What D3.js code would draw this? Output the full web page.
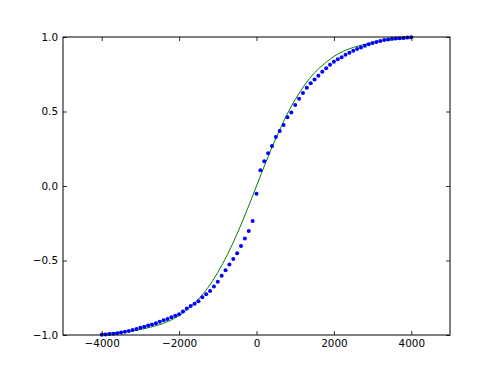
<!DOCTYPE html>
<html>
<head>
<meta charset="utf-8">
<script src="https://d3js.org/d3.v7.min.js"></script>
<style>
  body { margin: 0; background: #fff; }
  text { font-family: "DejaVu Sans", sans-serif; }
</style>
</head>
<body>
<script>
// sampled points (blue dots)
var dotX = [-4000, -3900, -3800, -3700, -3600, -3500, -3400, -3300, -3200, -3100,
            -3000, -2900, -2800, -2700, -2600, -2500, -2400, -2300, -2200, -2100,
            -2000, -1900, -1800, -1700, -1600, -1500, -1400, -1300, -1200, -1100,
            -1000, -900, -800, -700, -600, -500, -400, -300, -200, -100,
            0, 100, 200, 300, 400, 500, 600, 700, 800, 900,
            1000, 1100, 1200, 1300, 1400, 1500, 1600, 1700, 1800, 1900,
            2000, 2100, 2200, 2300, 2400, 2500, 2600, 2700, 2800, 2900,
            3000, 3100, 3200, 3300, 3400, 3500, 3600, 3700, 3800, 3900, 4000];
var dotY = [-0.999, -0.996, -0.994, -0.991, -0.988, -0.983, -0.978, -0.973, -0.966, -0.959,
            -0.951, -0.944, -0.937, -0.929, -0.921, -0.911, -0.901, -0.892, -0.881, -0.871,
            -0.860, -0.842, -0.822, -0.806, -0.790, -0.774, -0.747, -0.727, -0.705, -0.675,
            -0.642, -0.602, -0.565, -0.527, -0.490, -0.452, -0.403, -0.352, -0.302, -0.235,
            -0.052, 0.105, 0.166, 0.220, 0.268, 0.329, 0.369, 0.409, 0.461, 0.494,
            0.544, 0.586, 0.624, 0.660, 0.689, 0.714, 0.740, 0.766, 0.790, 0.813,
            0.834, 0.850, 0.864, 0.881, 0.895, 0.908, 0.919, 0.930, 0.941, 0.951,
            0.960, 0.966, 0.973, 0.980, 0.984, 0.988, 0.990, 0.992, 0.994, 0.996, 0.999];

// smooth curve (green line), read every 250
var curveX = [-4000, -3750, -3500, -3250, -3000, -2750, -2500, -2250, -2000, -1750, -1500,
              -1250, -1000, -750, -500, -250, 0, 250, 500, 750, 1000, 1250, 1500,
              1750, 2000, 2250, 2500, 2750, 3000, 3250, 3500, 3750, 4000];
var curveY = [-0.990, -0.987, -0.980, -0.974, -0.963, -0.948, -0.930, -0.905, -0.870, -0.820, -0.760,
              -0.680, -0.580, -0.460, -0.320, -0.165, 0.0, 0.165, 0.320, 0.460, 0.580, 0.680, 0.760,
              0.820, 0.870, 0.905, 0.930, 0.948, 0.963, 0.974, 0.980, 0.987, 0.990];

var xTicks = [-4000, -2000, 0, 2000, 4000];
var yTicks = [-1.0, -0.5, 0.0, 0.5, 1.0];

var W = 500, H = 373;
var mLeft = 63, mRight = 450, mTop = 37, mBottom = 335;

var svg = d3.select("body").append("svg")
    .attr("width", W)
    .attr("height", H);

var x = d3.scaleLinear().domain([-5000, 5000]).range([mLeft, mRight]);
var y = d3.scaleLinear().domain([-1, 1]).range([mBottom, mTop]);

var fs = "10.4px";

// green line
var line = d3.line()
    .x(function (d, i) { return x(curveX[i]); })
    .y(function (d) { return y(d); })
    .curve(d3.curveMonotoneX);

svg.append("path")
    .datum(curveY)
    .attr("d", line)
    .attr("fill", "none")
    .attr("stroke", "#008000")
    .attr("stroke-width", 1);

// blue dots
svg.append("g").selectAll("circle")
    .data(dotY)
    .enter().append("circle")
    .attr("cx", function (d, i) { return x(dotX[i]); })
    .attr("cy", function (d) { return y(d); })
    .attr("r", 2)
    .attr("fill", "#0000ff");

// axes, ticks pointing inward
var gb = svg.append("g")
    .attr("transform", "translate(0," + mBottom + ")")
    .call(d3.axisBottom(x).tickValues(xTicks).tickSize(-4).tickPadding(5).tickFormat(d3.format("d")));
var gl = svg.append("g")
    .attr("transform", "translate(" + mLeft + ",0)")
    .call(d3.axisLeft(y).tickValues(yTicks).tickSize(-4).tickPadding(5).tickFormat(d3.format(".1f")));
var gt = svg.append("g")
    .attr("transform", "translate(0," + mTop + ")")
    .call(d3.axisTop(x).tickValues(xTicks).tickSize(-4).tickFormat(""));
var gr = svg.append("g")
    .attr("transform", "translate(" + mRight + ",0)")
    .call(d3.axisRight(y).tickValues(yTicks).tickSize(-4).tickFormat(""));

[gb, gl, gt, gr].forEach(function (g) {
    g.select(".domain").remove();
    g.selectAll("line").attr("stroke", "#000").attr("stroke-width", 0.8);
    g.selectAll("text").attr("fill", "#000").style("font-size", fs);
});

// frame
svg.append("rect")
    .attr("x", mLeft)
    .attr("y", mTop)
    .attr("width", mRight - mLeft)
    .attr("height", mBottom - mTop)
    .attr("fill", "none")
    .attr("stroke", "#000")
    .attr("stroke-width", 1);
</script>
</body>
</html>
